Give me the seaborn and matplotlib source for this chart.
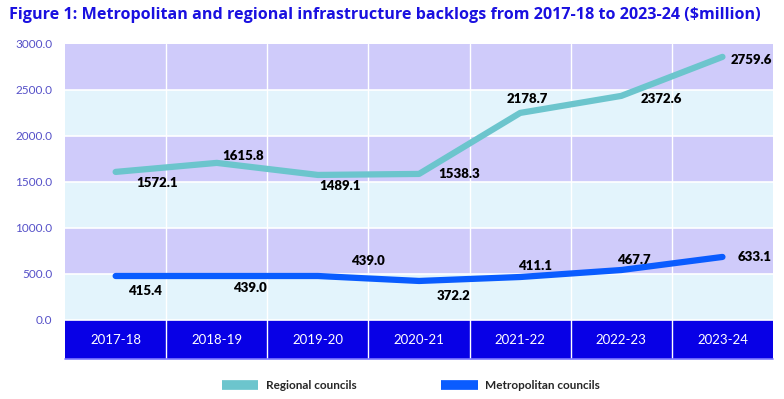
import numpy as np
import pandas as pd
import seaborn as sns
import matplotlib.pyplot as plt
from matplotlib.lines import Line2D

# data
years = ["2017-18", "2018-19", "2019-20", "2020-21", "2021-22", "2022-23", "2023-24"]
# printed data labels
regional_labels = [1572.1, 1615.8, 1489.1, 1538.3, 2178.7, 2372.6, 2759.6]
metro_labels = [415.4, 439.0, 439.0, 372.2, 411.1, 467.7, 633.1]
# where the lines are actually drawn in the reference
regional_line = [1609, 1707, 1576, 1587, 2250, 2435, 2859]
metro_line = [478, 478, 478, 424, 467, 543, 685]

# label offsets in points (dx, dy)
regional_off = [(30, -8), (19, 5), (16, -8), (29, 0), (5, 10), (29, -2), (21, -2)]
metro_off = [(21, -11), (24, -9), (36, 11), (25, -11), (11, 8), (9, 7), (23, 0)]

c_regional = "#6cc5cd"
c_metro = "#0a5cff"
c_band_dark = "#0800e6"
c_lav = "#cfcbfa"
c_light = "#e3f4fc"

sns.set_style("white")
plt.rcParams["font.family"] = ["Lato", "DejaVu Sans"]

fig = plt.figure(figsize=(7.84, 3.99), dpi=100)
ax = fig.add_axes([0.083, 0.100, 0.903, 0.790])

ymin, ymax = -425, 3000
# background bands
for i, lo in enumerate(range(0, 3000, 500)):
    ax.axhspan(lo, lo + 500, color=c_light if i % 2 == 0 else c_lav, zorder=0, lw=0)
ax.axhspan(ymin, 0, color=c_band_dark, zorder=0, lw=0)
for lo in range(500, 3000, 500):
    ax.axhline(lo, color="white", lw=1.2, zorder=1)
ax.axhline(0, color="white", lw=1.2, zorder=1)
for k in range(len(years) - 1):
    ax.axvline(k + 0.5, color="white", lw=1.0, zorder=1)

df = pd.DataFrame({
    "year": years * 2,
    "x": list(range(len(years))) * 2,
    "value": regional_line + metro_line,
    "series": ["Regional councils"] * len(years) + ["Metropolitan councils"] * len(years),
})
sns.lineplot(data=df, x="x", y="value", hue="series",
             palette={"Regional councils": c_regional, "Metropolitan councils": c_metro},
             lw=4.5, ax=ax, legend=False, zorder=3, solid_capstyle="round")

for x, (v, lab, off) in enumerate(zip(regional_line, regional_labels, regional_off)):
    ax.annotate(f"{lab:.1f}", (x, v), xytext=off, textcoords="offset points",
                ha="center", va="center", fontsize=9.5, fontweight="heavy", color="black", zorder=4)
for x, (v, lab, off) in enumerate(zip(metro_line, metro_labels, metro_off)):
    ax.annotate(f"{lab:.1f}", (x, v), xytext=off, textcoords="offset points",
                ha="center", va="center", fontsize=9.5, fontweight="heavy", color="black", zorder=4)

# category labels inside the dark band
for x, y in enumerate(years):
    ax.text(x, ymin / 2, y, ha="center", va="center", color="white", fontsize=9.5, zorder=4)

ax.set_xlim(-0.5, len(years) - 0.5)
ax.set_ylim(ymin, ymax)
ax.set_xticks([])
ax.set_yticks(range(0, 3001, 500))
ax.set_yticklabels([f"{t:.1f}" for t in range(0, 3001, 500)], color="#5550c8", fontsize=8.5)
ax.tick_params(axis="y", length=0, pad=9)
ax.set_xlabel("")
ax.set_ylabel("")
for s in ax.spines.values():
    s.set_visible(False)
ax.plot([-0.5, len(years) - 0.5], [ymin, ymin], color="#7d78ff", lw=1.2, clip_on=False, zorder=5)

fig.text(0.012, 0.962, "Figure 1: Metropolitan and regional infrastructure backlogs from 2017-18 to 2023-24 ($million)",
         color="#1a10e0", fontsize=11.6, fontweight="bold", va="center", ha="left",
         family=["Open Sans", "DejaVu Sans"])

handles = [Line2D([], [], color=c_regional, lw=7, solid_capstyle="butt"),
           Line2D([], [], color=c_metro, lw=7, solid_capstyle="butt")]
fig.legend(handles, ["Regional councils", "Metropolitan councils"], loc="center",
           bbox_to_anchor=(0.524, 0.033), ncol=2, frameon=False, handlelength=3.1,
           handletextpad=0.6, columnspacing=7.2, prop={"size": 8.5, "weight": "bold"})

fig.savefig("out.png", dpi=100)
